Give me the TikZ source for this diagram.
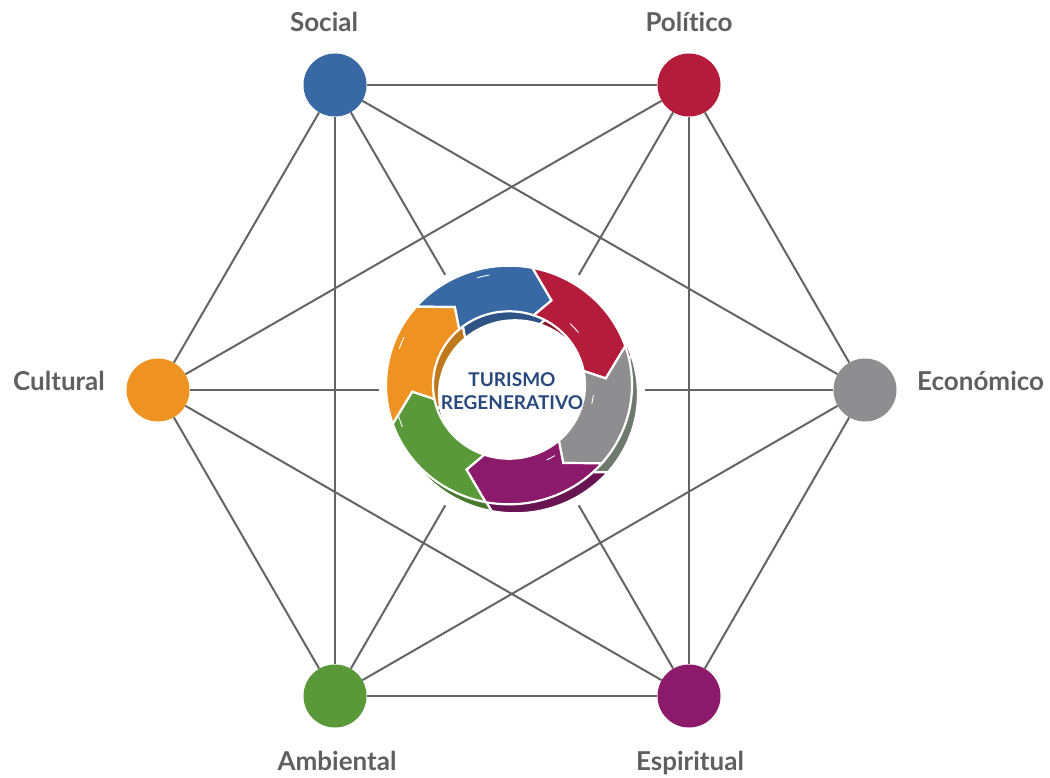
\documentclass[tikz,border=0pt]{standalone}
\usepackage{fontspec}
\setmainfont[Ligatures={NoCommon}]{Lato}
\definecolor{cblue}{RGB}{56,105,164}
\definecolor{cred}{RGB}{181,27,58}
\definecolor{corange}{RGB}{238,147,34}
\definecolor{cgray}{RGB}{142,142,144}
\definecolor{cgreen}{RGB}{90,153,58}
\definecolor{cpurple}{RGB}{139,26,107}
\definecolor{dblue}{RGB}{45,84,132}
\definecolor{dred}{RGB}{140,20,45}
\definecolor{dorange}{RGB}{192,120,28}
\definecolor{dgray}{RGB}{110,122,110}
\definecolor{dgreen}{RGB}{70,120,45}
\definecolor{dpurple}{RGB}{105,20,82}
\definecolor{linegray}{RGB}{100,100,100}
\definecolor{labelgray}{RGB}{95,95,95}
\definecolor{titleblue}{RGB}{40,73,125}
\def\rout{123pt}
\def\rin{76pt}
\def\rtip{97pt}
\newcommand{\segpath}[1]{({#1+75}:\rout) arc[start angle={#1+75}, end angle={#1+15}, radius=\rout] -- (#1:\rtip) -- ({#1+7}:\rin) arc[start angle={#1+7}, end angle={#1+67}, radius=\rin] -- ({#1+60}:\rtip) -- cycle}
\begin{document}
\begin{tikzpicture}[x=1pt,y=1pt,
  edge/.style={draw=linegray, line width=2pt},
  dim/.style={circle, minimum size=63pt, inner sep=0pt},
  lbl/.style={font=\fontsize{26}{30}\selectfont\bfseries, text=labelgray, inner sep=0pt},
  seg/.style={draw=white, line width=2.2pt},
  shine/.style={draw=white, line width=0.9pt, line cap=round}]
\useasboundingbox (0,0) rectangle (1050,-778);
% dimension nodes
\node[dim, fill=cblue]   (soc) at (335,-85) {};
\node[dim, fill=cred]    (pol) at (689,-85) {};
\node[dim, fill=corange] (cul) at (158,-390) {};
\node[dim, fill=cgray]   (eco) at (865,-390) {};
\node[dim, fill=cgreen]  (amb) at (335,-696) {};
\node[dim, fill=cpurple] (esp) at (689,-696) {};
\node[circle, minimum size=266pt, inner sep=0pt] (gap) at (512,-390) {};
% labels
\node[lbl, anchor=base] (lsoc) at (324,-32) {Social};
\node[lbl, anchor=base] (lpol) at (689,-32) {Político};
\node[lbl, anchor=base east] (lcul) at (105,-390) {Cultural};
\node[lbl, anchor=base west] (leco) at (917,-390) {Económico};
\node[lbl, anchor=base] (lamb) at (337,-770) {Ambiental};
\node[lbl, anchor=base] (lesp) at (690,-770) {Espiritual};
% connectors
\draw[edge] (soc) -- (pol);
\draw[edge] (soc) -- (cul);
\draw[edge] (soc) -- (amb);
\draw[edge] (soc) -- (eco);
\draw[edge] (pol) -- (cul);
\draw[edge] (pol) -- (eco);
\draw[edge] (pol) -- (esp);
\draw[edge] (cul) -- (amb);
\draw[edge] (cul) -- (esp);
\draw[edge] (eco) -- (amb);
\draw[edge] (eco) -- (esp);
\draw[edge] (amb) -- (esp);
\draw[edge] (soc) -- (gap);
\draw[edge] (esp) -- (gap);
\draw[edge] (pol) -- (gap);
\draw[edge] (amb) -- (gap);
\draw[edge] (cul) -- (gap);
\draw[edge] (eco) -- (gap);
% cycle ring: extruded darker copies
\begin{scope}[shift={(515,-394)}, yscale=0.97]
  \path[seg, fill=dblue]   \segpath{64};
  \path[seg, fill=dred]    \segpath{4};
  \path[seg, fill=dgray]   \segpath{-56};
  \path[seg, fill=dpurple] \segpath{-116};
  \path[seg, fill=dgreen]  \segpath{-176};
  \path[seg, fill=dorange] \segpath{124};
\end{scope}
\begin{scope}[shift={(509,-385)}, yscale=0.97]
  \path[seg, fill=cblue]   \segpath{64};
  \path[seg, fill=cred]    \segpath{4};
  \path[seg, fill=cgray]   \segpath{-56};
  \path[seg, fill=cpurple] \segpath{-116};
  \path[seg, fill=cgreen]  \segpath{-176};
  \path[seg, fill=corange] \segpath{124};
  \draw[shine] (106:115pt) arc[start angle=106, end angle=100, radius=115pt];
  \draw[shine] (161:116pt) arc[start angle=161, end angle=155, radius=116pt];
  \draw[shine] (202:115pt) arc[start angle=202, end angle=196, radius=115pt];
  \draw[shine] (46:88pt) arc[start angle=46, end angle=38, radius=88pt];
  \draw[shine] (-7:85pt) arc[start angle=-7, end angle=-13, radius=85pt];
  \draw[shine] (-58:86pt) arc[start angle=-58, end angle=-64, radius=86pt];
\end{scope}
\node[font=\fontsize{19}{23.5}\selectfont\bfseries, text=titleblue, align=center, inner sep=0pt] (title) at (512,-391) {TURISMO\\REGENERATIVO};
\end{tikzpicture}
\end{document}
